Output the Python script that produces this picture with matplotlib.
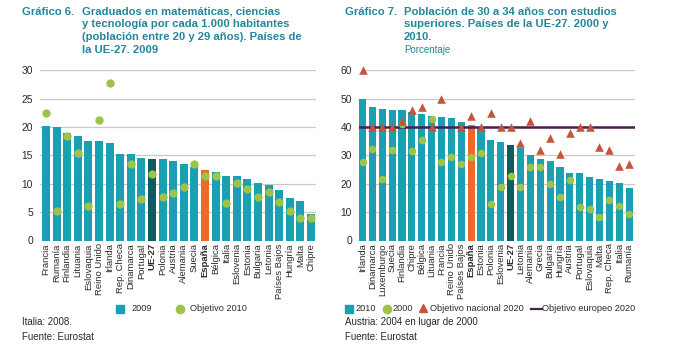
import matplotlib
matplotlib.use("Agg")
import matplotlib.pyplot as plt
import numpy as np

# ---------------- Data: Gráfico 6 ----------------
countries6 = ["Francia", "Rumanía", "Finlandia", "Lituania", "Eslovaquia", "Reino Unido",
              "Irlanda", "Rep. Checa", "Dinamarca", "Portugal", "UE-27", "Polonia", "Austria",
              "Alemania", "Suecia", "España", "Bélgica", "Italia", "Eslovenia", "Estonia",
              "Bulgaria", "Letonia", "Países Bajos", "Hungría", "Malta", "Chipre"]
grad2009 = [20.2, 20.0, 19.0, 18.5, 17.5, 17.5, 17.2, 15.3, 15.2, 14.6, 14.3, 14.3, 14.1,
            13.5, 13.0, 12.5, 12.0, 11.3, 11.3, 10.8, 10.1, 9.8, 8.9, 7.5, 7.0, 4.6]
obj2010 = [22.5, 5.2, 18.4, 15.5, 6.1, 21.3, 27.8, 6.4, 13.5, 7.3, 11.7, 7.7, 8.4,
           9.5, 13.4, 11.4, 11.3, 6.6, 10.2, 9.0, 7.7, 8.5, 6.7, 5.2, 4.0, 4.0]

# ---------------- Data: Gráfico 7 ----------------
countries7 = ["Irlanda", "Dinamarca", "Luxemburgo", "Suecia", "Finlandia", "Chipre", "Bélgica",
              "Lituania", "Francia", "Reino Unido", "Países Bajos", "España", "Estonia",
              "Polonia", "Eslovenia", "UE-27", "Letonia", "Alemania", "Grecia", "Bulgaria",
              "Hungría", "Austria", "Portugal", "Eslovaquia", "Malta", "Rep. Checa", "Italia",
              "Rumanía"]
pop2010 = [50.0, 47.2, 46.3, 45.9, 45.9, 45.4, 44.6, 44.0, 43.7, 43.2, 41.6, 40.6, 40.0,
           35.3, 34.8, 33.8, 32.6, 30.2, 28.8, 27.9, 26.0, 23.9, 23.9, 22.5, 21.8, 20.8,
           20.2, 18.5]
pop2000 = [27.8, 32.4, 21.6, 32.0, 40.9, 31.5, 35.5, 42.8, 27.7, 29.4, 26.9, 29.6, 31.0,
           12.9, 18.8, 22.9, 19.0, 26.0, 25.8, 19.9, 15.2, 21.3, 11.8, 11.1, 8.2, 14.2,
           12.2, 9.5]
obj_nac2020 = [60, 40, 40, 40, 42, 46, 47, 40, 50, np.nan, 40, 44, 40,
               45, 40, 40, 34.3, 42, 32, 36, 30.5, 38, 40, 40, 33, 32, 26.4, 27.0]
obj_eur2020 = 40

# ---------------- Styles ----------------
TEAL = "#1aa0b2"
DARK = "#0d5c60"
ORANGE = "#f0682c"
GREEN = "#9dc34b"
TRI = "#c4553a"
PURPLE = "#4b1f4f"
TITLE = "#22879a"
GRID = "#c9c9c9"
TXT = "#2a2a2a"

SANS = ["Liberation Sans", "DejaVu Sans"]

W, H = 680, 349
fig = plt.figure(figsize=(W / 100, H / 100), dpi=100)


def ax_rect(x0, x1, ytop, ybot):
    return [x0 / W, 1 - ybot / H, (x1 - x0) / W, (ybot - ytop) / H]


def bar_colors(names):
    cols = []
    for n in names:
        if n == "UE-27":
            cols.append(DARK)
        elif n == "España":
            cols.append(ORANGE)
        else:
            cols.append(TEAL)
    return cols


def style_ticks(ax, names):
    ax.set_xticks(np.arange(len(names)))
    ax.set_xticklabels(names, rotation=90, family=SANS, fontsize=6.8, color=TXT)
    for lab in ax.get_xticklabels():
        if lab.get_text() in ("UE-27", "España"):
            lab.set_fontweight("bold")
    ax.tick_params(axis="x", length=0, pad=2)
    ax.tick_params(axis="y", length=0, pad=5, labelsize=7.4, labelcolor=TXT)
    for lab in ax.get_yticklabels():
        lab.set_family(SANS)
    for s in ax.spines.values():
        s.set_visible(False)


# ---------------- Left chart ----------------
ax1 = fig.add_axes(ax_rect(40, 316, 70.3, 240.5))
x6 = np.arange(len(countries6))
ax1.set_ylim(0, 30)
ax1.set_xlim(-0.57, len(countries6) - 1 + 0.47)
for yv in range(5, 31, 5):
    ax1.axhline(yv, color=GRID, lw=0.9, zorder=0)
ax1.bar(x6, grad2009, width=0.76, color=bar_colors(countries6), zorder=2)
ax1.scatter(x6, obj2010, s=36, color=GREEN, zorder=3, linewidths=0, clip_on=False)
ax1.set_yticks(range(0, 31, 5))
style_ticks(ax1, countries6)

# ---------------- Right chart ----------------
ax2 = fig.add_axes(ax_rect(359, 635, 70.3, 240.5))
x7 = np.arange(len(countries7))
ax2.set_ylim(0, 60)
ax2.set_xlim(-0.355, len(countries7) - 1 + 0.6)
for yv in range(10, 61, 10):
    ax2.axhline(yv, xmin=0.022, color=GRID, lw=0.9, zorder=0)
ax2.bar(x7, pop2010, width=0.72, color=bar_colors(countries7), zorder=2)
ax2.axhline(obj_eur2020, color=PURPLE, lw=1.8, zorder=3)
ax2.scatter(x7, pop2000, s=30, color=GREEN, zorder=4, linewidths=0, clip_on=False)
ax2.scatter(x7, obj_nac2020, s=38, marker="^", color=TRI, zorder=5, linewidths=0,
            clip_on=False)
ax2.set_yticks(range(0, 61, 10))
style_ticks(ax2, countries7)

# ---------------- Titles ----------------
tkw = dict(fontsize=8.1, fontweight="bold", color=TITLE, family=SANS, va="center")
fig.text(22 / W, 1 - 11.7 / H, "Gráfico 6.", **tkw)
lines6 = ["Graduados en matemáticas, ciencias", "y tecnología por cada 1.000 habitantes",
          "(población entre 20 y 29 años). Países de", "la UE-27. 2009"]
for i, t in enumerate(lines6):
    fig.text(82 / W, 1 - (11.7 + 12.7 * i) / H, t, **tkw)

fig.text(345 / W, 1 - 11.7 / H, "Gráfico 7.", **tkw)
lines7 = ["Población de 30 a 34 años con estudios", "superiores. Países de la UE-27. 2000 y",
          "2010."]
for i, t in enumerate(lines7):
    fig.text(404 / W, 1 - (11.7 + 12.7 * i) / H, t, **tkw)
fig.text(404 / W, 1 - 50 / H, "Porcentaje", fontsize=7.0, color=TITLE, family=SANS,
         va="center")

# ---------------- Legends (overlay in pixel coordinates) ----------------
ov = fig.add_axes([0, 0, 1, 1], zorder=10)
ov.set_xlim(0, W)
ov.set_ylim(H, 0)
ov.axis("off")
ov.patch.set_alpha(0)
LY = 308.5
lkw = dict(fontsize=6.6, color=TXT, family=SANS, va="center", ha="left")
ov.plot([120], [LY], marker="s", ms=5.2, color=TEAL, ls="")
ov.text(131, LY, "2009", **lkw)
ov.plot([180], [LY], marker="o", ms=6, color=GREEN, ls="")
ov.text(190, LY, "Objetivo 2010", **lkw)

ov.plot([349], [LY], marker="s", ms=5.2, color=TEAL, ls="")
ov.text(355, LY, "2010", **lkw)
ov.plot([386.5], [LY], marker="o", ms=6, color=GREEN, ls="")
ov.text(392, LY, "2000", **lkw)
ov.plot([423], [LY - 0.5], marker="^", ms=5.5, color=TRI, ls="")
ov.text(430, LY, "Objetivo nacional 2020", **lkw)
ov.plot([531, 542], [LY, LY], color=PURPLE, lw=1.6)
ov.text(542.5, LY, "Objetivo europeo 2020", **lkw)

# ---------------- Notes ----------------
nkw = dict(fontsize=7.0, color=TXT, family=SANS, va="center")
fig.text(22 / W, 1 - 322 / H, "Italia: 2008.", **nkw)
fig.text(22 / W, 1 - 337 / H, "Fuente: Eurostat", **nkw)
fig.text(345 / W, 1 - 322 / H, "Austria: 2004 en lugar de 2000", **nkw)
fig.text(345 / W, 1 - 337 / H, "Fuente: Eurostat", **nkw)

fig.savefig("out.png", dpi=100, facecolor="white")
